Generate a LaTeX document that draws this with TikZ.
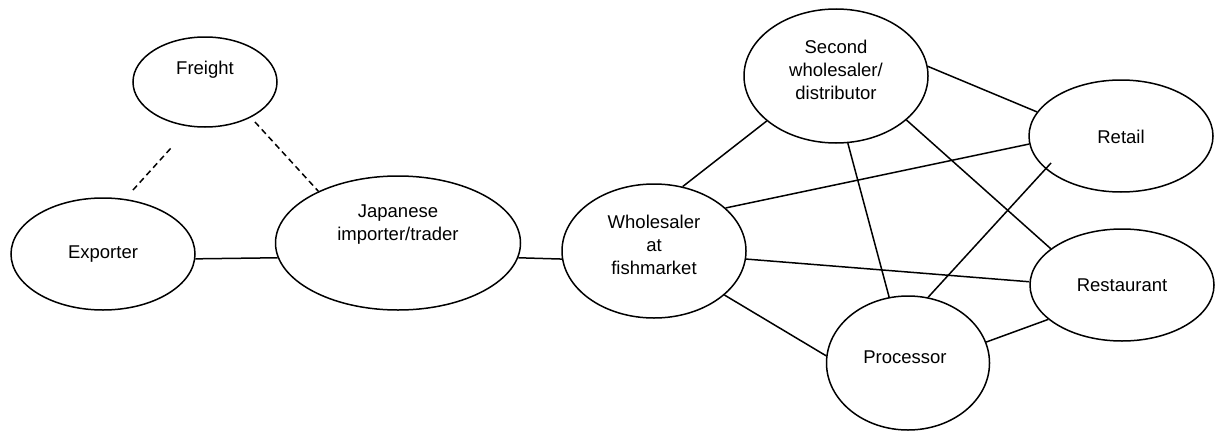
\documentclass[tikz,border=0pt]{standalone}
\usepackage{fontspec}
\setmainfont{Liberation Sans}
\usetikzlibrary{shapes.geometric,calc}

\tikzset{
  ent/.style={draw, ellipse, line width=1.5pt, inner sep=0pt},
  lbl/.style={align=center, inner sep=0pt, font=\fontsize{18.5}{23}\selectfont},
  link/.style={line width=1.5pt},
  weak/.style={line width=1.5pt, dash pattern=on 6pt off 4pt}
}

\begin{document}
\begin{tikzpicture}[x=1pt, y=-1pt]
\useasboundingbox (0,0) rectangle (1217,431);

% actors in the supply chain
\node[ent, minimum width=144pt, minimum height=90pt]  (fr) at (205,82)  {};
\node[ent, minimum width=184pt, minimum height=112pt] (ex) at (103,254) {};
\node[ent, minimum width=245pt, minimum height=134pt] (jp) at (398,243) {};
\node[ent, minimum width=184pt, minimum height=134pt] (wh) at (654,251) {};
\node[ent, minimum width=184pt, minimum height=134pt] (sw) at (836,76)  {};
\node[ent, minimum width=184pt, minimum height=112pt] (rt) at (1121,136) {};
\node[ent, minimum width=184pt, minimum height=112pt] (rs) at (1122,285) {};
\node[ent, minimum width=163pt, minimum height=134pt] (pr) at (908,363) {};

% their names
\node[lbl] (fr-t) at (205,70)  {Freight};
\node[lbl] (ex-t) at (103,254) {Exporter};
\node[lbl] (jp-t) at (398,225) {Japanese\\importer/trader};
\node[lbl] (wh-t) at (654,245) {Wholesaler\\at\\fishmarket};
\node[lbl] (sw-t) at (836,70)  {Second\\wholesaler/\\distributor};
\node[lbl] (rt-t) at (1121,137) {Retail};
\node[lbl] (rs-t) at (1122,285) {Restaurant};
\node[lbl] (pr-t) at (905,357) {Processor};

% freight links
\draw[weak] ($(ex)+(30,-64)$) -- ($(fr)+(-34,66)$);
\draw[weak] ($(fr)+(50,40)$) -- (jp.147);

% trade links
\draw[link] (ex.-3) -- (jp.187.5);
\draw[link] (jp.-7.5) -- (wh.185);
\draw[link] (wh.66.3) -- (sw.213.7);
\draw[link] (wh.31.2) -- (rt.185.6);
\draw[link] (wh.-5) -- (rs.178.1);
\draw[link] (wh.-32.7) -- (pr.175.8);
\draw[link] (sw.6.1) -- (rt.164.5);
\draw[link] (sw.-80.8) -- (pr.106.9);
\draw[link] (sw.-32.6) -- (rs.153.7);
\draw[link] ($(rt)+(-70,27)$) -- (pr.73.1);
\draw[link] (pr.15) -- (rs.205);
\end{tikzpicture}
\end{document}
